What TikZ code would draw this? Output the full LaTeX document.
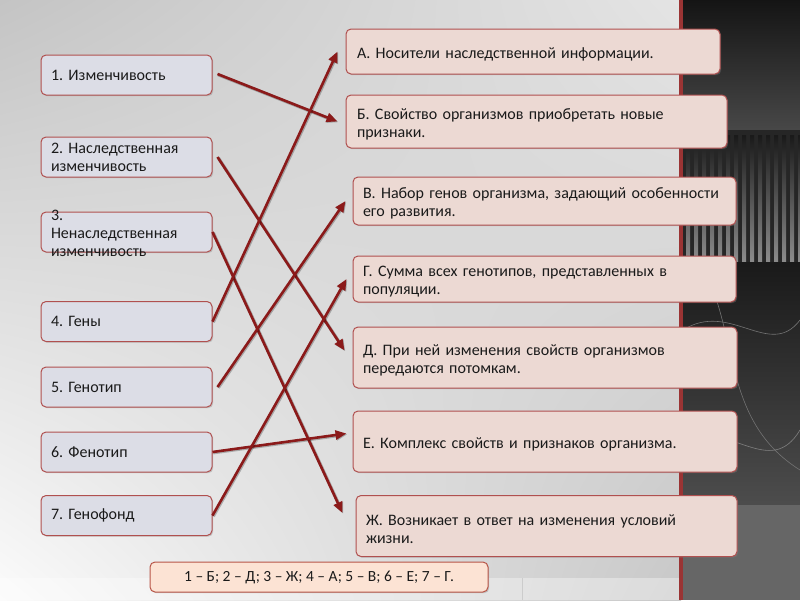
\documentclass[tikz,border=0pt]{standalone}
\usepackage{fontspec}
\setmainfont{Carlito}
\usetikzlibrary{arrows.meta,shadows,shadings}
\definecolor{lfill}{HTML}{DCDDE6}
\definecolor{rfill}{HTML}{ECD9D3}
\definecolor{afill}{HTML}{FCE3D4}
\definecolor{bred}{HTML}{B0504F}
\definecolor{arrred}{HTML}{8B1A1A}
\definecolor{stripred}{HTML}{9A3434}
\definecolor{txt}{HTML}{1A1A1A}
\definecolor{bgul}{HTML}{C4C4C4}
\definecolor{bgur}{HTML}{E4E4E4}
\definecolor{bgll}{HTML}{FBFBFB}
\definecolor{bglr}{HTML}{C8C8C8}
\tikzset{
  box/.style={draw=bred, line width=1pt, rounded corners=5pt, inner sep=0pt,
    align=left, text=txt, font=\fontsize{16}{18}\selectfont\frenchspacing,
    drop shadow={opacity=0.35, shadow xshift=1.2pt, shadow yshift=-1.2pt}},
  lbox/.style={box, fill=lfill, minimum width=171pt, minimum height=40pt, text width=151pt},
  rbox/.style={box, fill=rfill, execute at begin node={\rule{0pt}{16.5pt}}},
  abox/.style={box, fill=afill, draw=bred!90!orange, align=center},
  link/.style={draw=arrred, line width=2.6pt, -{Triangle[length=11pt,width=9pt]},
    preaction={draw=black, opacity=0.25, line width=3.2pt, transform canvas={shift={(0.8pt,-0.8pt)}}}},
}
\begin{document}
\begin{tikzpicture}[x=1pt,y=-1pt]
\useasboundingbox (0,0) rectangle (800,600);
% background
\shade[upper left=bgul, upper right=bgur, lower left=bgll, lower right=bglr]
  (0,0) rectangle (681,600);
\fill[white, opacity=0.35] (0,578) rectangle (681,600);
\draw[gray!40, line width=0.6pt] (522,578) -- (522,600);
% right strip
\fill[black!88] (681,0) rectangle (800,600);
\shade[top color=black!92, bottom color=black!72] (683,0) rectangle (800,130);
\fill[black!85] (683,130) rectangle (800,262);
\foreach \i in {0,...,14} {
  \shade[top color=black!90, bottom color=black!45] ({686+\i*8},135) rectangle ({690+\i*8},262);
}
\shade[top color=black!90, bottom color=black!70] (683,262) rectangle (800,505);
\draw[black!55, line width=0.6pt] (683,330) .. controls (730,300) and (770,360) .. (800,320);
\draw[black!55, line width=0.6pt] (700,262) .. controls (740,330) and (720,420) .. (800,470);
\draw[black!50, line width=0.6pt] (683,440) .. controls (730,420) and (770,480) .. (800,430);
\fill[black!60] (683,505) rectangle (800,600);
\fill[stripred] (679,0) rectangle (683,600);
% left boxes
\node[lbox] (n1) at (126.5,75) {1. Изменчивость};
\node[lbox] (n2) at (126.5,157) {2. Наследственная\\изменчивость};
\node[lbox] (n3) at (126.5,232) {\raisebox{-6pt}[0pt][0pt]{\parbox{151pt}{\fontsize{16}{18}\selectfont\frenchspacing 3.\\Ненаследственная\\изменчивость}}};
\node[lbox] (n4) at (126.5,321.5) {4. Гены};
\node[lbox] (n5) at (126.5,387) {5. Генотип};
\node[lbox] (n6) at (126.5,452) {6. Фенотип};
\node[lbox] (n7) at (126.5,515.5) {7. Генофонд};
% right boxes
\node[rbox, minimum width=374pt, minimum height=45pt, text width=352pt] (nA) at (533,51.5) {А. Носители наследственной информации.};
\node[rbox, minimum width=381pt, minimum height=53pt, text width=359pt] (nB) at (536.5,121.5) {Б. Свойство организмов приобретать новые\\признаки.};
\node[rbox, minimum width=383pt, minimum height=48pt, text width=363pt] (nV) at (544.5,201) {В. Набор генов организма, задающий особенности\\его развития.};
\node[rbox, minimum width=383pt, minimum height=46pt, text width=363pt] (nG) at (544.5,279) {Г. Сумма всех генотипов, представленных в\\популяции.};
\node[rbox, minimum width=384pt, minimum height=61pt, text width=364pt] (nD) at (545,357.5) {Д. При ней изменения свойств организмов\\передаются потомкам.};
\node[rbox, minimum width=384pt, minimum height=61pt, text width=364pt] (nE) at (545,441.5) {Е. Комплекс свойств и признаков организма.};
\node[rbox, minimum width=381pt, minimum height=61pt, text width=361pt] (nZh) at (546.5,526) {Ж. Возникает в ответ на изменения условий\\жизни.};
% answer
\node[abox, minimum width=338pt, minimum height=30pt, font=\fontsize{15.5}{18}\selectfont\frenchspacing] (ans) at (319,577) {1 – Б; 2 – Д; 3 – Ж; 4 – А; 5 – В; 6 – Е; 7 – Г.};
% connectors
\draw[link] ([xshift=5pt,yshift=1pt]n1.east) -- ([xshift=-8pt]nB.west);
\draw[link] ([xshift=5pt]n2.east) -- ([shift={(-8,-7)}]nD.west);
\draw[link] (n3.east) -- ([shift={(-13,-13)}]nZh.west);
\draw[link] (n4.east) -- ([xshift=-8pt]nA.west);
\draw[link] ([xshift=5pt]n5.east) -- ([xshift=-7pt]nV.west);
\draw[link] (n6.east) -- ([shift={(-6,-8)}]nE.west);
\draw[link] (n7.east) -- ([xshift=-6pt]nG.west);
\end{tikzpicture}
\end{document}
